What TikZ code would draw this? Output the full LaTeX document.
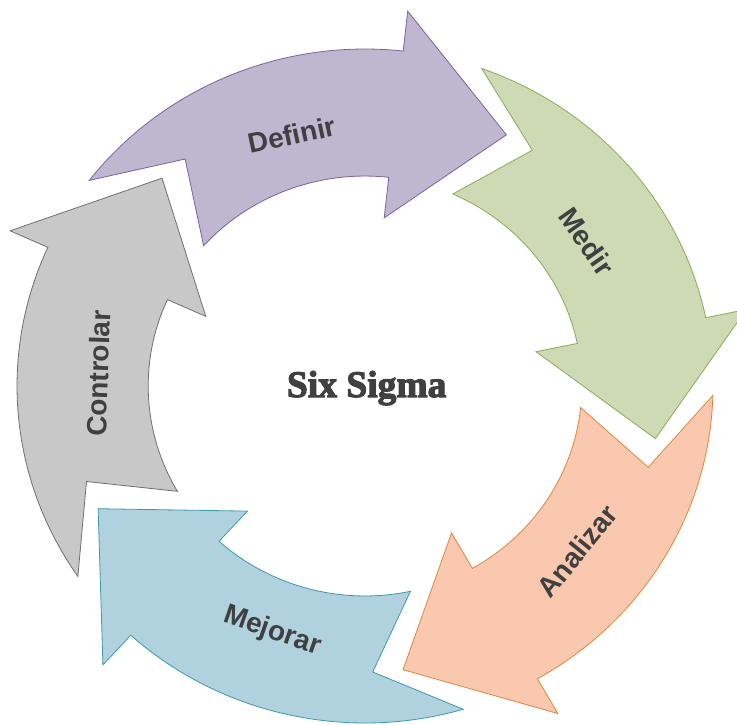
\documentclass[tikz,border=0pt]{standalone}
\usepackage{fontspec}
\setsansfont{Liberation Sans}
\newfontfamily\heavyserif[FakeBold=3]{Liberation Serif Bold}

\definecolor{defFill}{HTML}{BFB6D0}\definecolor{defLine}{HTML}{7D62A0}
\definecolor{medFill}{HTML}{CDDAB4}\definecolor{medLine}{HTML}{8DAA5A}
\definecolor{anaFill}{HTML}{F9C8AE}\definecolor{anaLine}{HTML}{E2853F}
\definecolor{mejFill}{HTML}{B0D2DE}\definecolor{mejLine}{HTML}{3E98B0}
\definecolor{conFill}{HTML}{C8C8C8}\definecolor{conLine}{HTML}{707070}
\definecolor{labelgray}{HTML}{404040}

\tikzset{
  cyclearrow/.style={line width=0.8pt, line join=miter},
  steplabel/.style={font=\sffamily\bfseries\fontsize{28}{28}\selectfont,
    text=labelgray, inner sep=0pt},
  centertitle/.style={font=\heavyserif\fontsize{37.5}{37.5}\selectfont,
    text=labelgray, inner sep=0pt, anchor=base}
}

% One curved block arrow of the cycle, turned clockwise by #1 degrees
% (angles are taken on the slightly wide ellipse of the ring).
\newcommand{\bentarrow}[3]{%
  \draw[cyclearrow, fill=#2, draw=#3]
    ({#1+142.4}:1)
      arc[start angle={#1+142.4}, end angle={#1+83.7}, x radius=348pt, y radius=337pt]
    -- ({#1+83.7}:1.119) -- ({#1+61.4}:0.849) -- ({#1+83.7}:0.502)
    -- ({#1+83.7}:0.623)
      arc[start angle={#1+83.7}, end angle={#1+138.1}, x radius=216.8pt, y radius=210pt]
    -- ({#1+127.5}:0.849) -- cycle;}

\begin{document}
\begin{tikzpicture}
  \useasboundingbox (-365pt,-338pt) rectangle (372pt,386pt);
  \clip (-365pt,-338pt) rectangle (372pt,386pt);
  \begin{scope}[x=348pt, y=337pt]
    \bentarrow{0}{defFill}{defLine}
    \bentarrow{-72}{medFill}{medLine}
    \bentarrow{-144}{anaFill}{anaLine}
    \bentarrow{-216}{mejFill}{mejLine}
    \bentarrow{-288}{conFill}{conLine}

    \node[steplabel, rotate=12]  (definir)   at (105.7:0.774) {Definir};
    \node[steplabel, rotate=-55] (medir)     at (33.9:0.768)  {Medir};
    \node[steplabel, rotate=51]  (analizar)  at (-38.8:0.782) {Analizar};
    \node[steplabel, rotate=-19] (mejorar)   at (-110.1:0.776) {Mejorar};
    \node[steplabel, rotate=88]  (controlar) at (177.2:0.767) {Controlar};
  \end{scope}
  \node[centertitle] (title) at (1.7pt,-11pt) {Six Sigma};
\end{tikzpicture}
\end{document}
